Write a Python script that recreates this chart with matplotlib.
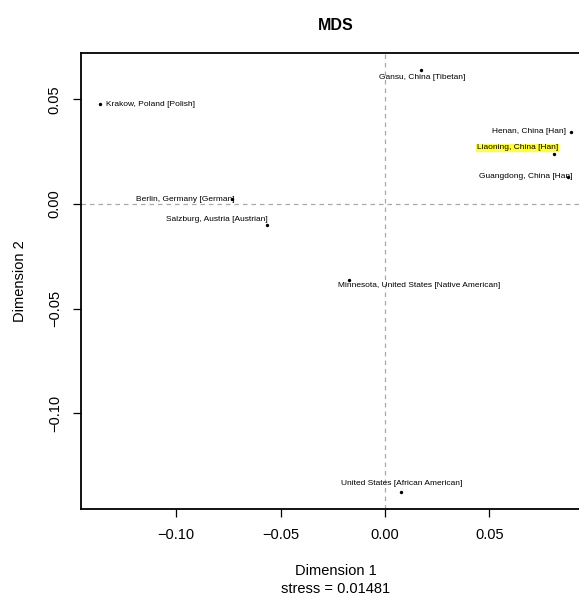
import matplotlib
matplotlib.use("Agg")
import matplotlib.pyplot as plt

plt.rcParams['font.family'] = ['Liberation Sans', 'DejaVu Sans']

# ---- data ----
labels = [
    "Krakow, Poland [Polish]",
    "Gansu, China [Tibetan]",
    "Henan, China [Han]",
    "Liaoning, China [Han]",
    "Guangdong, China [Han]",
    "Berlin, Germany [German]",
    "Salzburg, Austria [Austrian]",
    "Minnesota, United States [Native American]",
    "United States [African American]",
]
dim1 = [-0.1366, 0.0173, 0.0892, 0.0812, 0.0879, -0.0732, -0.0564, -0.0173, 0.0078]
dim2 = [0.0475, 0.0640, 0.0345, 0.0240, 0.0129, 0.0022, -0.0102, -0.0366, -0.1377]
highlight = "Liaoning, China [Han]"
xticks = [-0.10, -0.05, 0.00, 0.05]
yticks = [-0.10, -0.05, 0.00, 0.05]
stress = 0.01481

# ---- label placement styling (offsets in points, alignment) ----
offsets = [(4.5, 0), (0.5, -5.5), (-3.4, 0), (2.5, 4.1), (2.9, 0),
           (1.8, 0), (0.6, 3.8), (-7.9, -3.6), (0, 6.0)]
aligns = ['left', 'center', 'right', 'right', 'right',
          'right', 'right', 'left', 'center']

W, H = 579, 596
fig = plt.figure(figsize=(W / 100, H / 100), dpi=100)
ax_l, ax_r, ax_t, ax_b = 81, 590, 53, 509
ax = fig.add_axes([ax_l / W, 1 - ax_b / H, (ax_r - ax_l) / W, (ax_b - ax_t) / H])

ax.axhline(0, color='#a8a8a8', lw=0.9, ls=(0, (3.6, 3.2)), zorder=1)
ax.axvline(0, color='#a8a8a8', lw=0.9, ls=(0, (3.6, 3.2)), zorder=1)

ax.scatter(dim1, dim2, s=6, color='black', zorder=3, linewidths=0)
ax.margins(0.04)

for lab, x, y, off, ha in zip(labels, dim1, dim2, offsets, aligns):
    kw = {}
    if lab == highlight:
        kw['bbox'] = dict(boxstyle='square,pad=0.08', fc='#ffff33', ec='none')
    ax.annotate(lab, (x, y), xytext=off, textcoords='offset points',
                ha=ha, va='center', fontsize=6, color='black', zorder=4, **kw)

ax.set_xticks(xticks)
ax.set_yticks(yticks)
ax.set_xticklabels([f"{v:.2f}".replace('-', '\u2212') for v in xticks])
ax.set_yticklabels([f"{v:.2f}".replace('-', '\u2212') for v in yticks],
                   rotation=90, va='center')
ax.tick_params(axis='both', direction='out', length=5.8, width=0.9,
               labelsize=10.5, pad=8)
for s in ax.spines.values():
    s.set_linewidth(1.3)

ax.set_xlabel("Dimension 1", fontsize=10.5, va='center')
ax.xaxis.set_label_coords(0.5, (ax_b - 571) / (ax_b - ax_t))
ax.text(0.5, (ax_b - 589) / (ax_b - ax_t), f"stress = {stress}",
        transform=ax.transAxes, ha='center', va='center', fontsize=10.5)
ax.set_ylabel("Dimension 2", fontsize=10.5, va='center')
ax.yaxis.set_label_coords((20 - ax_l) / (ax_r - ax_l), 0.5)

ax.text(0.5, 1 + (ax_t - 25) / (ax_b - ax_t), "MDS", transform=ax.transAxes,
        ha='center', va='center', fontsize=11.5, fontweight='bold')

fig.savefig("out.png", dpi=100)
